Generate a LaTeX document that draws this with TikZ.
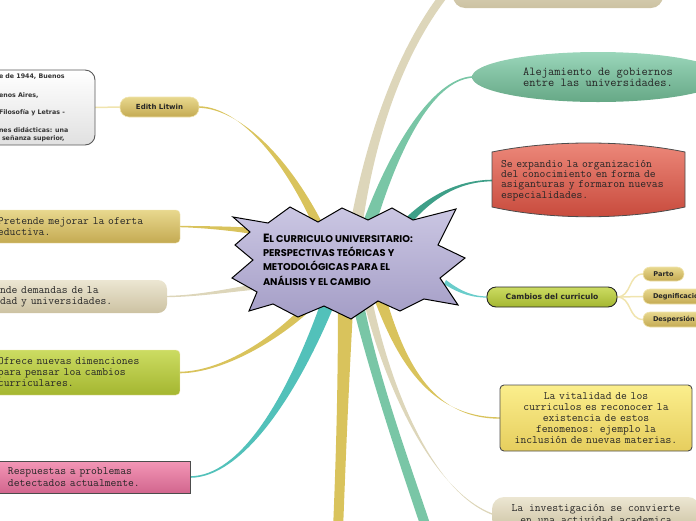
\documentclass[tikz,border=0pt]{standalone}
\usepackage{fontspec}
\setmainfont{DejaVu Sans}
\newfontfamily\starf{Poppins}
\newfontfamily\labf{DejaVu Sans}
\newcommand\monof{\ttfamily}
\usetikzlibrary{calc,shapes.geometric}
\pgfdeclarelayer{bg}
\pgfsetlayers{bg,main}
\definecolor{goldc}{HTML}{D9C35C}
\definecolor{beigec}{HTML}{DDD6BA}
\definecolor{tgreen}{HTML}{79C6A6}
\definecolor{dteal}{HTML}{3E9F88}
\definecolor{tealc}{HTML}{52C1BA}
\definecolor{lteal}{HTML}{6ACDCB}
\definecolor{subl}{HTML}{F0E4AE}
\definecolor{goldT}{HTML}{E8D88E}
\definecolor{goldB}{HTML}{C4AA52}
\definecolor{beigeT}{HTML}{ECE6D2}
\definecolor{beigeB}{HTML}{CCC2A2}
\definecolor{limeT}{HTML}{CCDC62}
\definecolor{limeB}{HTML}{A4B630}
\definecolor{pinkT}{HTML}{F396B6}
\definecolor{pinkB}{HTML}{D2668E}
\definecolor{ellT}{HTML}{9AD6BA}
\definecolor{ellB}{HTML}{66A886}
\definecolor{redT}{HTML}{EE8A7C}
\definecolor{redB}{HTML}{C6483A}
\definecolor{yelT}{HTML}{FBEE8C}
\definecolor{yelB}{HTML}{E6CE5E}
\definecolor{starT}{HTML}{CBC7E3}
\definecolor{starB}{HTML}{A49DC6}
\newcommand\twig[7]{\fill[#1] ($(#2)+(#6)$) .. controls ($(#3)+0.6*(#6)$) and ($(#4)+(#7)$) .. ($(#5)+(#7)$) -- ($(#5)-(#7)$) .. controls ($(#4)-(#7)$) and ($(#3)-0.6*(#6)$) .. ($(#2)-(#6)$) -- cycle;}
\tikzset{
  every node/.style={inner sep=0pt, outer sep=0pt},
  mono/.style={font=\monof\fontsize{11.3}{11}\selectfont, text=black!85},
  goldpill/.style={rounded corners=7pt, draw=subl, line width=0.6pt, top color=goldT, bottom color=goldB, font=\labf\bfseries\fontsize{6.6}{8}\selectfont, text=black!85},
  littext/.style={anchor=west, font=\labf\bfseries\fontsize{6.3}{7}\selectfont, text=black!80},
  subline/.style={draw=subl, line width=1.5pt},
  boxr/.style={rounded corners=4pt}
}
\begin{document}
\begin{tikzpicture}[x=1pt,y=-1pt]
\useasboundingbox (0,0) rectangle (696,520);
% ---------- nodes ----------
\node[goldpill, minimum width=79pt, minimum height=20pt, rounded corners=9pt, font=\labf\bfseries\fontsize{7}{8}\selectfont] (edith) at (159.5,107) {Edith Litwin};
\node[draw=black!65, line width=0.9pt, rounded corners=10pt, top color=white, bottom color=black!12, minimum width=112pt, minimum height=75pt] (litbox) at (39,107.5) {};
\node[littext] (l1) at (-1,77) {e de 1944, Buenos};
\node[littext] (l2) at (-1,96) {enos Aires,};
\node[littext] (l3) at (-1,113) {Filosofía y Letras -};
\node[littext] (l4) at (-1,130) {nes didácticas: una};
\node[littext] (l5) at (2,139) {señanza superior,};

\node[mono, boxr, top color=goldT, bottom color=goldB, draw=subl, text width=174pt, inner xsep=8pt, minimum height=33pt, align=left] (pret) at (85,226.5) {Pretende mejorar la oferta\\eductiva.};
\node[mono, rounded corners=9pt, top color=beigeT, bottom color=beigeB, text width=157pt, inner xsep=10pt, minimum height=33pt, align=left] (dem) at (78.5,296.5) {nde demandas de la\\dad y universidades.};
\node[mono, boxr, top color=limeT, bottom color=limeB, draw=subl, text width=174pt, inner xsep=8pt, minimum height=45pt, align=left] (ofr) at (85,372.5) {Ofrece nuevas dimenciones\\para pensar loa cambios\\curriculares.};
\node[mono, draw=black!70, line width=0.9pt, top color=pinkT, bottom color=pinkB, text width=169pt, inner xsep=13pt, minimum height=32pt, align=left, font=\monof\fontsize{11.3}{12}\selectfont] (pink) at (92.5,477) {Respuestas a problemas\\detectados actualmente.};

\node[rounded corners=12pt, top color=beigeT, bottom color=beigeB, minimum width=210pt, minimum height=48pt] (top) at (558,-16) {};
\node[ellipse, top color=ellT, bottom color=ellB, minimum width=252pt, minimum height=50pt, align=center, font=\monof\fontsize{12.1}{11}\selectfont, text=black!85] (ell) at (598,77) {Alejamiento de gobiernos\\entre las universidades.};
\draw[draw=black!70, line width=0.8pt, top color=redT, bottom color=redB] (492,152) .. controls (550,140) and (627,140) .. (685,152) -- (685,207) .. controls (627,220) and (550,220) .. (492,207) -- cycle;
\node[mono, align=left, text width=175pt, inner xsep=9pt, font=\monof\fontsize{11.3}{10.2}\selectfont] (red) at (588.5,180.5) {Se expandio la organización\\del conocimiento en forma de\\asiganturas y formaron nuevas\\especialidades.};

\node[draw=black!85, line width=0.9pt, rounded corners=9pt, top color=limeT, bottom color=limeB, minimum width=130pt, minimum height=20pt, font=\labf\bfseries\fontsize{7.6}{8}\selectfont, text=black!85] (camb) at (552,297) {Cambios del curriculo};
\node[goldpill, minimum width=41pt, minimum height=14pt] (parto) at (663.5,274) {Parto};
\node[goldpill, anchor=west, minimum height=15pt, inner xsep=10pt] (degn) at (643,296.5) {Degnificación};
\node[goldpill, anchor=west, minimum height=15pt, inner xsep=10pt] (desp) at (643,319.5) {Despersión};

\node[mono, boxr, draw=black!70, line width=0.9pt, top color=yelT, bottom color=yelB, text width=180pt, inner xsep=6pt, minimum height=66pt, align=center, font=\monof\fontsize{11.3}{11.2}\selectfont] (yel) at (596,418) {La vitalidad de los\\curriculos es reconocer la\\existencia de estos\\fenomenos: ejemplo la\\inclusión de nuevas materias.};
\node[mono, rounded corners=12pt, top color=beigeT, bottom color=beigeB, minimum width=208pt, minimum height=34pt, align=center, font=\monof\fontsize{11.3}{11.5}\selectfont] (br) at (596,514) {La investigación se convierte\\en una actividad academica};

\coordinate (gdown) at (338,530);
\coordinate (tgdown) at (427,530);

% ---------- star ----------
\draw[line width=1pt, line join=miter, top color=starT, bottom color=starB] (233,217) -- (268,223) -- (290,207) -- (318,222) -- (342,208) -- (368,220) -- (392,208) -- (413,220) -- (456,209) -- (438,245) -- (465,258) -- (440,278) -- (458,305) -- (424,299) -- (400,311) -- (378,301) -- (351,319) -- (324,306) -- (298,317) -- (273,304) -- (249,311) -- (257,292) -- (232,278) -- (253,260) -- (235,245) -- (250,232) -- cycle;
\node[anchor=west, align=left, font=\starf\bfseries\fontsize{9.8}{14.3}\selectfont, text=black] (title) at (263,259.5) {{\fontsize{12}{14.3}\selectfont E}L CURRICULO UNIVERSITARIO:\\PERSPECTIVAS TEÓRICAS Y\\METODOLÓGICAS PARA EL\\ANÁLISIS Y EL CAMBIO};

% ---------- connectors ----------
\begin{pgfonlayer}{bg}
\twig{beigec}{354,240}{370,130}{405,40}{top.west}{6.4,0.9}{3,2.6}
\twig{tgreen}{364,240}{392,150}{432,80}{ell.west}{6.7,2.1}{0,0.8}
\twig{dteal}{398,232}{425,200}{455,181}{red.west}{3.4,2.9}{0,0.8}
\twig{lteal}{445,282}{462,294}{475,297}{camb.west}{-1,2}{0,0.6}
\twig{goldc}{378,292}{400,360}{430,418}{yel.west}{5.7,-1.9}{0,0.7}
\twig{beigec}{366,292}{385,380}{430,490}{br.west}{4.4,-0.9}{0,0.7}
\twig{tgreen}{355,290}{372,370}{400,450}{tgdown}{5.9,-1.2}{4.7,-1.5}
\twig{goldc}{346,292}{343,400}{340,480}{gdown}{8,0}{5,0}
\twig{tealc}{332,292}{292,400}{240,477}{pink.east}{6.6,2.4}{0,0.8}
\twig{goldc}{322,292}{285,335}{225,372}{ofr.east}{3.8,3.2}{0,0.8}
\twig{beigec}{262,286}{230,290}{200,296}{dem.east}{0.3,3}{0,0.7}
\twig{goldc}{262,232}{230,228}{200,227}{pret.east}{0,3.5}{0,0.7}
\twig{goldc}{325,240}{290,160}{240,108}{edith.east}{4.6,-2}{0,0.8}
\draw[subline] (litbox.east) -- (edith.west);
\draw[subline] (camb.east) .. controls (632,297) and (628,274) .. (parto.west);
\draw[subline] (camb.east) -- (degn.west);
\draw[subline] (camb.east) .. controls (632,297) and (628,319.5) .. (desp.west);
\end{pgfonlayer}
\end{tikzpicture}
\end{document}
